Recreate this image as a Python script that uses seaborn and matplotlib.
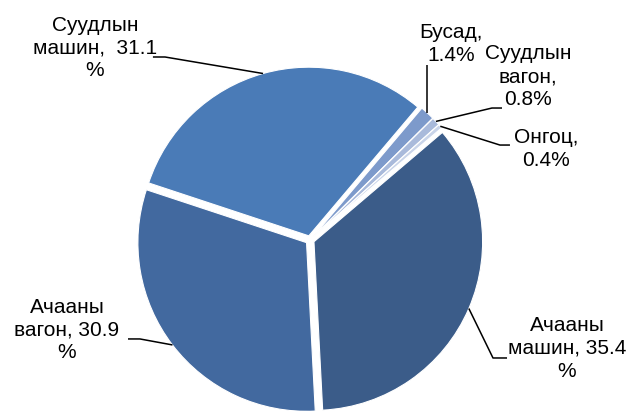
import numpy as np
import matplotlib
matplotlib.use("Agg")
import matplotlib.pyplot as plt
import seaborn as sns

# Shares of transport kinds, listed clockwise from the upper right
categories = ["Ачааны машин", "Ачааны вагон", "Суудлын машин",
              "Бусад", "Суудлын вагон", "Онгоц"]
shares = [35.4, 30.9, 31.1, 1.4, 0.8, 0.4]
label_texts = [
    "Ачааны\nмашин, 35.4\n%",
    "Ачааны\nвагон, 30.9\n%",
    "Суудлын\nмашин,  31.1\n%",
    "Бусад,\n1.4%",
    "Суудлын\nвагон,\n0.8%",
    "Онгоц,\n0.4%",
]

sns.set_theme(style="white")
plt.rcParams["font.family"] = ["Liberation Sans", "DejaVu Sans"]

colors = ["#3B5C89", "#42699F", "#4A7BB7", "#7D9ACB", "#A9BADB", "#C9D4E9"]
explode_amt = 0.025

fig = plt.figure(figsize=(6.30, 4.11), dpi=100)
ax = fig.add_axes([0, 0, 1, 1])

wedges, _ = ax.pie(
    shares,
    colors=colors,
    startangle=40.4,
    counterclock=False,
    explode=[explode_amt] * len(shares),
    radius=0.975,
    wedgeprops=dict(edgecolor="white", linewidth=0.8),
)

ax.set_xlim(-1.792, 1.850)
ax.set_ylim(-0.988, 1.387)
ax.set_aspect("equal")
ax.axis("off")

# label layout: text centre, elbow point and end of the short horizontal stub
layout = [
    dict(text=(1.486, -0.627), elbow=(1.058, -0.682), stub=(1.139, -0.682)),
    dict(text=(-1.405, -0.520), elbow=(-0.983, -0.572), stub=(-1.052, -0.572)),
    dict(text=(-1.243, 1.110), elbow=(-0.838, 1.058), stub=(-0.908, 1.058)),
    dict(text=(0.815, 1.133), elbow=None, stub=None, top=1.012),
    dict(text=(1.260, 0.945), elbow=(1.052, 0.763), stub=(1.110, 0.763)),
    dict(text=(1.364, 0.526), elbow=(1.098, 0.549), stub=(1.156, 0.549)),
]

for w, txt, lay in zip(wedges, label_texts, layout):
    mid = np.deg2rad((w.theta1 + w.theta2) / 2)
    cx, cy = w.center
    ax_x = cx + w.r * np.cos(mid)
    ax_y = cy + w.r * np.sin(mid)
    if lay["elbow"] is None:
        xs = [ax_x, ax_x]
        ys = [ax_y, lay["top"]]
    else:
        xs = [ax_x, lay["elbow"][0], lay["stub"][0]]
        ys = [ax_y, lay["elbow"][1], lay["stub"][1]]
    ax.plot(xs, ys, color="black", lw=1.1, clip_on=False, solid_capstyle="butt")
    ax.text(lay["text"][0], lay["text"][1], txt, ha="center", va="center",
            multialignment="center", fontsize=15, color="black",
            linespacing=1.25)

fig.savefig("out.png", dpi=100, facecolor="white")
